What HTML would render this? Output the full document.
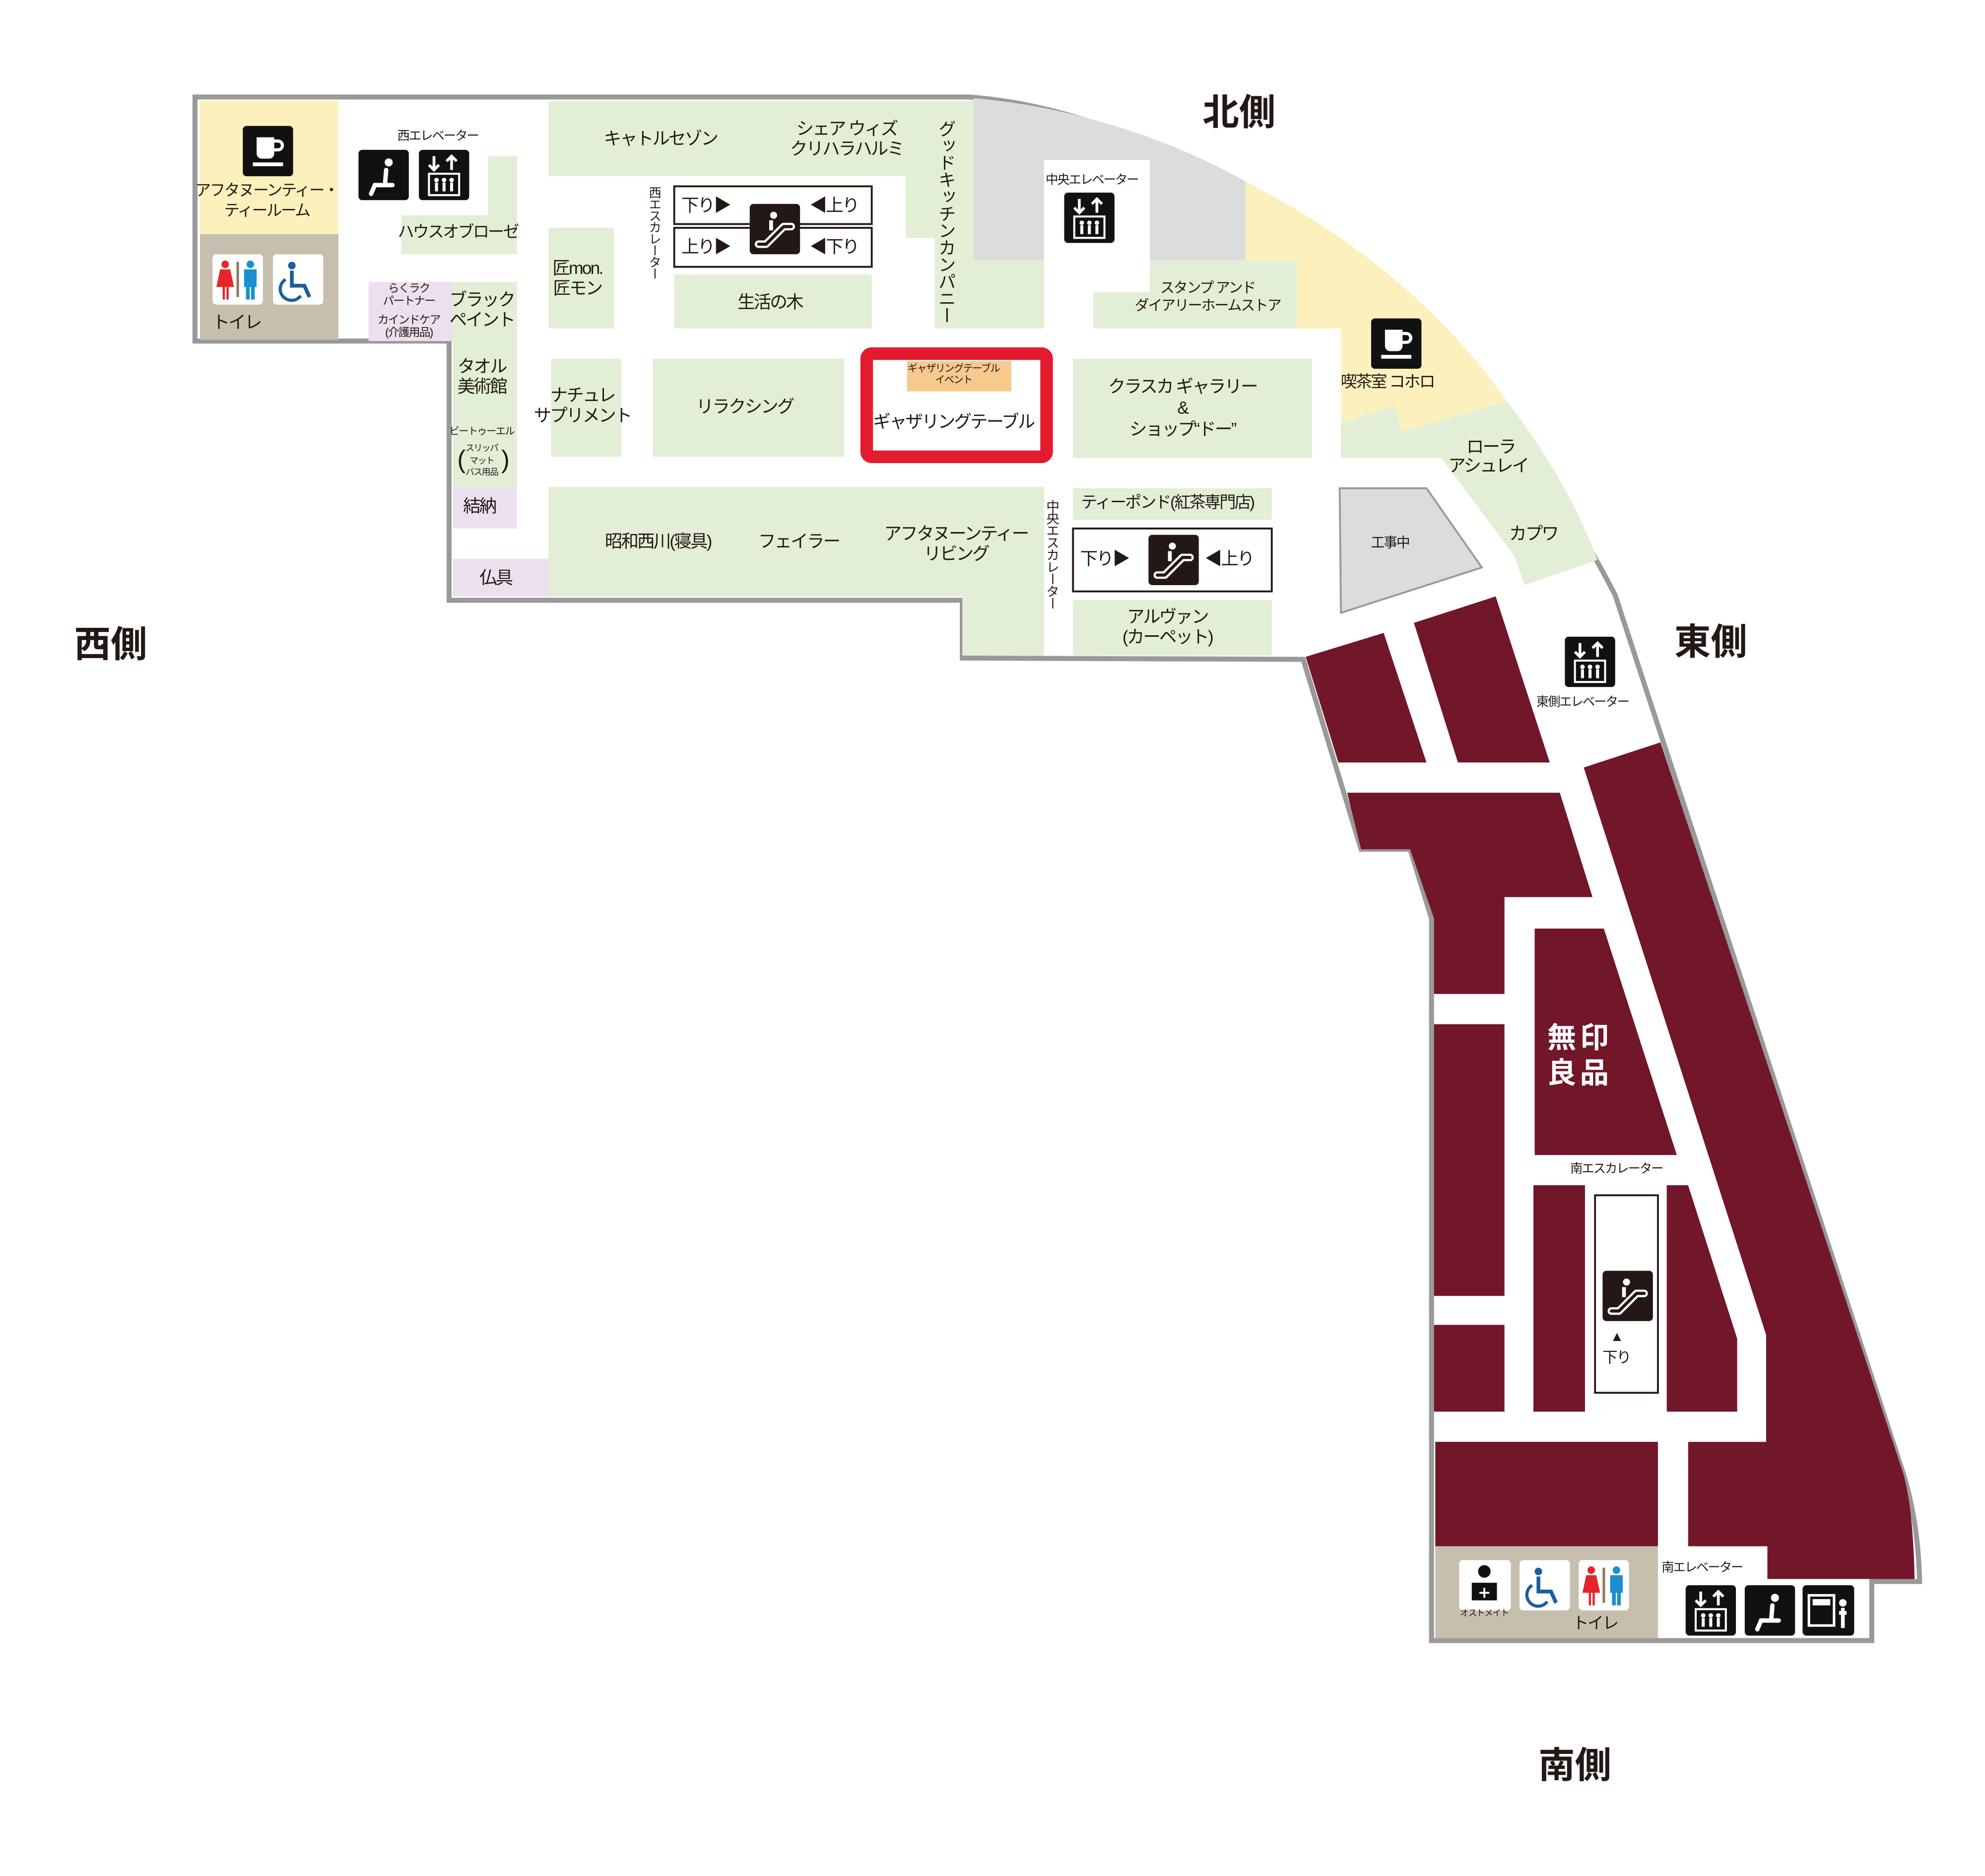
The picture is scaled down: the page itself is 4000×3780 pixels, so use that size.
<!DOCTYPE html>
<html><head><meta charset="utf-8"><style>
html,body{margin:0;padding:0;background:#fff;}
svg{display:block;}
text{font-family:"Liberation Sans","Noto Sans CJK JP",sans-serif;fill:#231815;letter-spacing:-0.08em;}
text.big{letter-spacing:0;}
</style></head><body>
<svg width="4000" height="3780" viewBox="0 0 1578 1491" xmlns="http://www.w3.org/2000/svg">
<defs>
<g id="elev"><rect x="0" y="0" width="40" height="40" rx="3" fill="#111"/><path d="M12 5v11M8 12l4 4 4-4M26 16V5M22 9l4-4 4 4" stroke="#fff" stroke-width="2.2" fill="none"/><rect x="8" y="19" width="24" height="17" fill="none" stroke="#fff" stroke-width="1.6"/><circle cx="14" cy="24" r="1.8" fill="#fff"/><circle cx="20" cy="24" r="1.8" fill="#fff"/><circle cx="26" cy="24" r="1.8" fill="#fff"/><path d="M14 26v7M20 26v7M26 26v7" stroke="#fff" stroke-width="2.4"/></g>
<g id="seat"><rect x="0" y="0" width="40" height="40" rx="3" fill="#111"/><circle cx="24" cy="10" r="3.2" fill="#fff"/><path d="M22 16 L21 28 L13 28 L10 35 M21 28 L27 28" stroke="#fff" stroke-width="3.5" fill="none" stroke-linecap="round"/></g>
<g id="cup"><rect x="0" y="0" width="40" height="40" rx="3" fill="#111"/><path d="M11 9h14v13a4 4 0 0 1-4 4h-6a4 4 0 0 1-4-4z" fill="#fff"/><path d="M25 12h3a3 3 0 0 1 0 7h-3" stroke="#fff" stroke-width="2.5" fill="none"/><rect x="8" y="29" width="24" height="3" fill="#fff"/></g>
<g id="esc"><rect x="0" y="0" width="40" height="40" rx="3" fill="#231815"/><circle cx="19" cy="9" r="2.8" fill="#fff"/><path d="M17 13v8" stroke="#fff" stroke-width="3"/><path d="M7 32 L13 32 L27 18 L33 18" stroke="#fff" stroke-width="6" fill="none" stroke-linecap="round" stroke-linejoin="round"/><path d="M7 32 L13 32 L27 18 L33 18" stroke="#231815" stroke-width="2.5" fill="none" stroke-linecap="round" stroke-linejoin="round"/></g>
<g id="wc"><rect x="0" y="0" width="40" height="40" rx="3" fill="#fff"/><circle cx="15" cy="9" r="3" fill="#1b5e9c"/><path d="M15 13v12h10l4 9" stroke="#1b5e9c" stroke-width="3" fill="none"/><path d="M10 20a9 9 0 1 0 12 13" stroke="#1b5e9c" stroke-width="2.5" fill="none"/></g>
<g id="toilet"><rect x="0" y="0" width="40" height="40" rx="3" fill="#fff"/><circle cx="10" cy="8" r="3" fill="#e4262a"/><path d="M6 12h8l3 14h-14z" fill="#e4262a"/><rect x="8" y="25" width="1.8" height="11" fill="#e4262a"/><rect x="11" y="25" width="1.8" height="11" fill="#e4262a"/><rect x="19" y="6" width="2" height="28" fill="#8a7a5a"/><circle cx="30" cy="8" r="3" fill="#1b8fd0"/><rect x="25" y="12" width="10" height="14" fill="#1b8fd0"/><rect x="26.5" y="25" width="3" height="11" fill="#1b8fd0"/><rect x="30.5" y="25" width="3" height="11" fill="#1b8fd0"/></g>
</defs>

<path d="M155,77 L770,77 C950,90 1170,250 1284,473 L1513,1171 Q1525,1210 1526,1257 L1488,1257 L1488,1304 L1138,1304 L1138,730 L1121,675 L1082,675 L1036,524 L765,523 L765,477 L357,477 L357,271 L155,271 Z" fill="#fff" stroke="#999" stroke-width="4" stroke-linejoin="miter"/>

<rect x="159" y="80" width="110" height="106" fill="#fcf1bc"/>
<rect x="159" y="186" width="110" height="84" fill="#c7bfad"/>
<path d="M388,124 H411 V202 H319 V171 H388 Z" fill="#e2efd6"/>
<rect x="293" y="224" width="67" height="47" fill="#ece0ef"/>
<rect x="360" y="224" width="51" height="163" fill="#e2efd6"/>
<rect x="360" y="387" width="51" height="33" fill="#ece0ef"/>
<rect x="360" y="444" width="76" height="30" fill="#ece0ef"/>
<path d="M436,387 H830 V521 H765 V474 H436 Z" fill="#e2efd6"/>
<path d="M436,80 H774 V189 H720 V140 H436 Z" fill="#e2efd6"/>
<path d="M743,189 H774 V80 H774 V207 H830 V261 H743 Z" fill="#e2efd6"/>
<rect x="436" y="181" width="52" height="80" fill="#e2efd6"/>
<rect x="536" y="218" width="157" height="43" fill="#e2efd6"/>
<rect x="438" y="285" width="56" height="78" fill="#e2efd6"/>
<rect x="519" y="285" width="152" height="78" fill="#e2efd6"/>
<path d="M774,78 C850,84 930,110 990,144 L990,207 L914,207 L914,127 L830,127 L830,207 L774,207 Z" fill="#dcdcdc"/>
<path d="M990,144 C1080,190 1150,250 1198,319 L1114,343 L1109,322 L1066,336 L1066,261 L1031,261 L1031,207 L990,207 Z" fill="#fcf1bc"/>
<path d="M914,207 H1031 V261 H869 V232 H914 Z" fill="#e2efd6"/>
<path d="M1066,336 L1109,322 L1114,343 L1198,319 C1230,360 1255,405 1270,445 L1212,465 L1204,442 L1146,364 L1066,364 Z" fill="#e2efd6"/>
<path d="M1065,388 L1134,388 L1178,451 L1066,487 Z" fill="#dcdcdc" stroke="#999" stroke-width="1.5"/>
<rect x="853" y="285" width="190" height="79" fill="#e2efd6"/>
<rect x="853" y="388" width="158" height="25" fill="#e2efd6"/>
<rect x="853" y="477" width="158" height="44" fill="#e2efd6"/>
<rect x="853" y="420" width="158" height="50" fill="#fff" stroke="#231815" stroke-width="1.5"/>
<rect x="689" y="281" width="143" height="82" rx="4" fill="#fff" stroke="#e31b2e" stroke-width="10"/>
<rect x="721" y="287" width="83" height="24" fill="#f7c98d"/>
<rect x="536" y="148" width="157" height="30" fill="#fff" stroke="#231815" stroke-width="1.5"/>
<rect x="536" y="181" width="157" height="31" fill="#fff" stroke="#231815" stroke-width="1.5"/>

<g fill="#72162a">
<path d="M1038,522 L1100,503 L1134,606 L1064,606 Z"/>
<path d="M1124,495 L1189,474 L1232,606 L1159,606 Z"/>
<path d="M1071,630 L1240,630 L1266,713 L1196,713 L1196,790 L1140,790 L1140,730 L1121,675 L1082,675 Z"/>
<rect x="1140" y="814" width="56" height="216"/>
<rect x="1140" y="1053" width="56" height="69"/>
<path d="M1220,738 L1275,738 L1333,918 L1220,918 Z"/>
<rect x="1219" y="942" width="41" height="180"/>
<path d="M1325,942 L1342,942 L1381,1064 L1381,1122 L1325,1122 Z"/>
<path d="M1259,610 L1320,590 L1513,1171 Q1521,1200 1522,1255 L1405,1255 L1405,1229 L1342,1229 L1342,1146 L1404,1146 L1404,1061 Z"/>
<rect x="1141" y="1146" width="177" height="83"/>
</g>
<rect x="1141" y="1229" width="177" height="73" fill="#c7bfad"/>
<rect x="1268" y="950" width="50" height="157" fill="#fff" stroke="#231815" stroke-width="1.5"/>

<use href="#cup" x="193" y="100"/>
<use href="#toilet" x="169" y="202"/>
<use href="#wc" x="217" y="202"/>
<use href="#seat" x="285" y="119"/>
<use href="#elev" x="333" y="119"/>
<use href="#elev" x="846" y="153"/>
<use href="#esc" x="596" y="162"/>
<use href="#esc" x="913" y="425"/>
<use href="#cup" x="1090" y="253"/>
<use href="#elev" x="1244" y="506"/>
<use href="#esc" x="1274" y="1010"/>
<g transform="translate(1160,1240)"><rect width="41" height="40" rx="3" fill="#fff"/><circle cx="20" cy="9" r="5" fill="#111"/><path d="M10 18h20v14h-20z" fill="#111"/><path d="M20 22v8M16 26h8" stroke="#fff" stroke-width="1.5"/></g>
<use href="#wc" x="1208" y="1240"/>
<use href="#toilet" x="1255" y="1240"/>
<use href="#elev" x="1340" y="1260"/>
<use href="#seat" x="1387" y="1260"/>
<g transform="translate(1433,1260)"><rect width="41" height="40" rx="3" fill="#111"/><rect x="5" y="8" width="20" height="24" fill="none" stroke="#fff" stroke-width="2"/><rect x="8" y="11" width="14" height="5" fill="#fff"/><circle cx="32" cy="14" r="3" fill="#fff"/><path d="M32 18v16M29 22h6" stroke="#fff" stroke-width="3"/></g>

<g text-anchor="middle" dominant-baseline="central" font-size="14">
<text x="212" y="151" font-size="12.5">アフタヌーンティー・</text>
<text x="212" y="167" font-size="12.5">ティールーム</text>
<text x="188" y="256">トイレ</text>
<text x="348" y="108" font-size="10">西エレベーター</text>
<text x="364" y="184" font-size="13">ハウスオブローゼ</text>
<text x="525" y="110">キャトルセゾン</text>
<text x="673" y="102">シェア ウィズ</text>
<text x="673" y="118">クリハラハルミ</text>
<text x="868" y="143" font-size="10">中央エレベーター</text>
<text x="960" y="229" font-size="11.5">スタンプ アンド</text>
<text x="960" y="243" font-size="11.5">ダイアリーホームストア</text>
<text x="459" y="213">匠mon.</text>
<text x="459" y="229">匠モン</text>
<text x="612" y="240">生活の木</text>
<text x="561" y="163">下り▶</text>
<text x="663" y="163">◀上り</text>
<text x="561" y="196">上り▶</text>
<text x="663" y="196">◀下り</text>
<text x="325" y="229" font-size="9">らくラク</text>
<text x="325" y="239" font-size="9">パートナー</text>
<text x="325" y="254" font-size="9">カインドケア</text>
<text x="325" y="264" font-size="9">(介護用品)</text>
<text x="383" y="238">ブラック</text>
<text x="383" y="254">ペイント</text>
<text x="383" y="291">タオル</text>
<text x="383" y="307">美術館</text>
<text x="383" y="343" font-size="8">ビートゥーエル</text>
<text x="383" y="356" font-size="7">スリッパ</text>
<text x="383" y="366" font-size="7">マット</text>
<text x="383" y="375" font-size="7">バス用品</text>
<text x="366" y="365" font-size="20">(</text>
<text x="401" y="365" font-size="20">)</text>
<text x="381" y="402">結納</text>
<text x="394" y="459">仏具</text>
<text x="463" y="314">ナチュレ</text>
<text x="463" y="330">サプリメント</text>
<text x="592" y="323">リラクシング</text>
<text x="758" y="293" font-size="8">ギャザリングテーブル</text>
<text x="758" y="302" font-size="8">イベント</text>
<text x="758" y="335">ギャザリングテーブル</text>
<text x="940" y="307">クラスカ ギャラリー</text>
<text x="940" y="324">&amp;</text>
<text x="940" y="341">ショップ“ドー”</text>
<text x="1103" y="303" font-size="13">喫茶室 コホロ</text>
<text x="1185" y="355">ローラ</text>
<text x="1183" y="370">アシュレイ</text>
<text x="1219" y="424">カプワ</text>
<text x="1105" y="431" font-size="11">工事中</text>
<text x="523" y="430">昭和西川(寝具)</text>
<text x="635" y="430">フェイラー</text>
<text x="760" y="424">アフタヌーンティー</text>
<text x="760" y="440">リビング</text>
<text x="928" y="399" font-size="13">ティーポンド(紅茶専門店)</text>
<text x="878" y="444">下り▶</text>
<text x="977" y="444">◀上り</text>
<text x="928" y="490">アルヴァン</text>
<text x="928" y="506">(カーペット)</text>
<text x="1258" y="558" font-size="10">東側エレベーター</text>
<text x="1256" y="825" font-size="23" font-weight="bold" class="big" style="fill:#fff;letter-spacing:3px">無印</text>
<text x="1256" y="853" font-size="23" font-weight="bold" class="big" style="fill:#fff;letter-spacing:3px">良品</text>
<text x="1285" y="929" font-size="10">南エスカレーター</text>
<text x="1285" y="1062" font-size="11">▲</text>
<text x="1285" y="1079" font-size="12">下り</text>
<text x="1180" y="1282" font-size="7">オストメイト</text>
<text x="1268" y="1290" font-size="13">トイレ</text>
<text x="1353" y="1246" font-size="10">南エレベーター</text>
<text x="985" y="89" font-size="29" font-weight="bold" class="big">北側</text>
<text x="1360" y="510" font-size="29" font-weight="bold" class="big">東側</text>
<text x="88" y="512" font-size="29" font-weight="bold" class="big">西側</text>
<text x="1252" y="1403" font-size="29" font-weight="bold" class="big">南側</text>
</g>
<g font-size="14">
<text x="752" y="95" style="writing-mode:vertical-rl;letter-spacing:-0.5px">グッドキッチンカンパニー</text>
<text x="520" y="148" font-size="10" style="writing-mode:vertical-rl">西エスカレーター</text>
<text x="836" y="397" font-size="10.5" style="writing-mode:vertical-rl">中央エスカレーター</text>
</g>
</svg>
</body></html>
